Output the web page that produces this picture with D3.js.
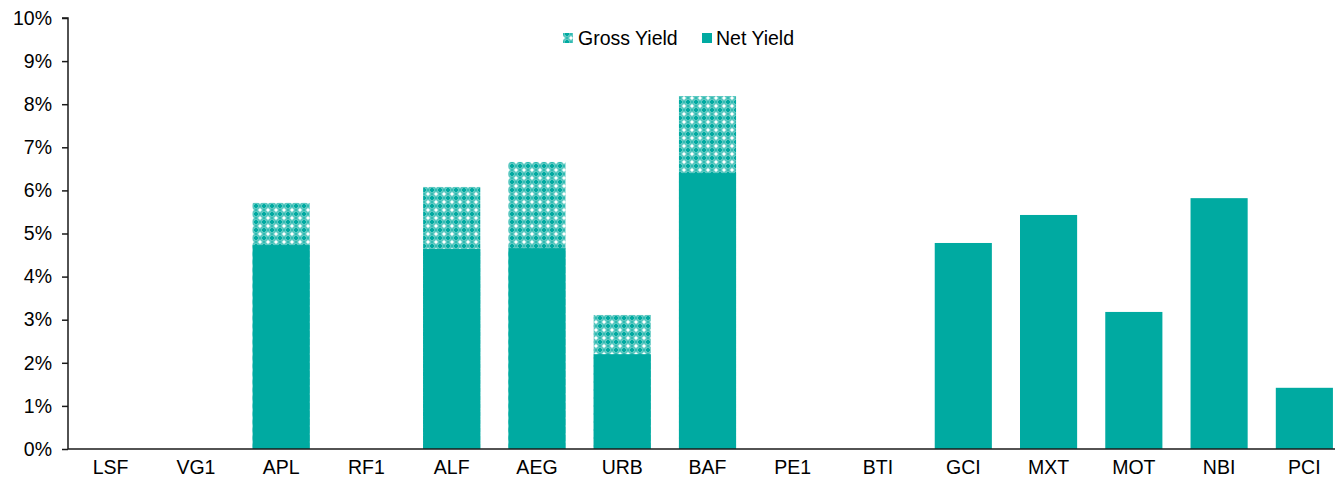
<!DOCTYPE html>
<html>
<head>
<meta charset="utf-8">
<script src="https://cdn.jsdelivr.net/npm/d3@7"></script>
<style>
  body { margin: 0; background: #fff; }
  svg { display: block; }
</style>
</head>
<body>
<div id="chart"></div>
<script>
// Data
const categories = ['LSF', 'VG1', 'APL', 'RF1', 'ALF', 'AEG', 'URB', 'BAF', 'PE1', 'BTI', 'GCI', 'MXT', 'MOT', 'NBI', 'PCI'];
const netYield   = [0, 0, 4.73, 0, 4.64, 4.66, 2.20, 6.40, 0, 0, 4.78, 5.43, 3.18, 5.82, 1.42];
// gross yield = full bar height (the hatched part sits above the net part)
const grossYield = [0, 0, 5.71, 0, 6.08, 6.66, 3.11, 8.19, 0, 0, 0, 0, 0, 0, 0];
const yTicks = [0, 1, 2, 3, 4, 5, 6, 7, 8, 9, 10];

// Constant
const width = 1335;
const height = 482;
const margin = {top: 18, right: -12, bottom: 33, left: 68};
const innerWidth = width - margin.left - margin.right;
const innerHeight = height - margin.top - margin.bottom;
const teal = '#00aaa1';
const fontFamily = 'Arial, "Liberation Sans", Helvetica, sans-serif';
const fontSize = '19.5px';

const svg = d3.select('#chart')
    .append('svg')
        .attr('width', width)
        .attr('height', height);

// dotted pattern for gross yield
const defs = svg.append('defs');
const pat = defs.append('pattern')
    .attr('id', 'gross')
    .attr('patternUnits', 'userSpaceOnUse')
    .attr('width', 8)
    .attr('height', 8);
pat.append('rect').attr('width', 8).attr('height', 8).attr('fill', '#5cc8c1');
pat.append('rect').attr('x', 2).attr('y', 3).attr('width', 4).attr('height', 2).attr('fill', teal);
pat.append('rect').attr('x', 3).attr('y', 2).attr('width', 2).attr('height', 4).attr('fill', teal);
pat.append('rect').attr('x', 0).attr('y', 3).attr('width', 1).attr('height', 2).attr('fill', '#33bbb3');
pat.append('rect').attr('x', 7).attr('y', 3).attr('width', 1).attr('height', 2).attr('fill', '#33bbb3');
pat.append('rect').attr('x', 3).attr('y', 0).attr('width', 2).attr('height', 1).attr('fill', '#33bbb3');
pat.append('rect').attr('x', 3).attr('y', 7).attr('width', 2).attr('height', 1).attr('fill', '#33bbb3');
// white corner dots (wrap around the tile)
[[0, 0], [7, 0], [0, 7], [7, 7]].forEach(p => {
    pat.append('rect').attr('x', p[0]).attr('y', p[1]).attr('width', 1).attr('height', 1).attr('fill', '#ffffff');
});
[[1, 0], [6, 0], [0, 1], [0, 6], [1, 7], [6, 7], [7, 1], [7, 6]].forEach(p => {
    pat.append('rect').attr('x', p[0]).attr('y', p[1]).attr('width', 1).attr('height', 1).attr('fill', '#b4e7e3');
});

const g = svg.append('g')
    .attr('transform', `translate(${margin.left},${margin.top})`);

const xScale = d3.scaleBand()
    .domain(categories)
    .range([0, innerWidth])
    .paddingInner(0.33)
    .paddingOuter(0.165);

const yScale = d3.scaleLinear()
    .domain([0, 10])
    .range([innerHeight, 0]);

// Gross bars (drawn full height, net drawn over them)
g.selectAll('.grossBar')
    .data(categories.map((c, i) => ({cat: c, v: grossYield[i]})).filter(d => d.v > 0))
    .enter()
    .append('rect')
        .attr('class', 'grossBar')
        .attr('x', d => xScale(d.cat))
        .attr('y', d => yScale(d.v))
        .attr('width', xScale.bandwidth())
        .attr('height', d => yScale(0) - yScale(d.v))
        .attr('fill', 'url(#gross)');

g.selectAll('.netBar')
    .data(categories.map((c, i) => ({cat: c, v: netYield[i]})).filter(d => d.v > 0))
    .enter()
    .append('rect')
        .attr('class', 'netBar')
        .attr('x', d => xScale(d.cat))
        .attr('y', d => yScale(d.v))
        .attr('width', xScale.bandwidth())
        .attr('height', d => yScale(0) - yScale(d.v))
        .attr('fill', teal);

// Y axis
const yAxis = g.append('g')
    .call(d3.axisLeft(yScale).tickValues(yTicks).tickFormat(d => d + '%').tickSize(6).tickPadding(10));

// X axis
const xAxis = g.append('g')
    .attr('transform', `translate(0, ${innerHeight})`)
    .call(d3.axisBottom(xScale).tickSize(0).tickPadding(11));

[xAxis, yAxis].forEach(a => {
    a.selectAll('path').attr('stroke', '#1a1a1a').attr('stroke-width', 1.5);
    a.selectAll('line').attr('stroke', '#1a1a1a').attr('stroke-width', 1.5);
    a.selectAll('text')
        .style('font-family', fontFamily)
        .style('font-size', fontSize)
        .attr('fill', '#000');
});
xAxis.select('.domain').attr('d', `M0,0H${innerWidth}`);
yAxis.select('.domain').attr('d', `M-6,0H0V${innerHeight}`);

// Legend
const legend = svg.append('g')
    .attr('transform', 'translate(563, 38)');

legend.append('rect')
    .attr('x', 0).attr('y', -5)
    .attr('width', 10).attr('height', 10)
    .attr('fill', 'url(#gross)');
legend.append('text')
    .attr('x', 15).attr('y', 7)
    .style('font-family', fontFamily)
    .style('font-size', fontSize)
    .text('Gross Yield');

legend.append('rect')
    .attr('x', 139).attr('y', -5)
    .attr('width', 10).attr('height', 10)
    .attr('fill', teal);
legend.append('text')
    .attr('x', 153).attr('y', 7)
    .style('font-family', fontFamily)
    .style('font-size', fontSize)
    .text('Net Yield');
</script>
</body>
</html>
